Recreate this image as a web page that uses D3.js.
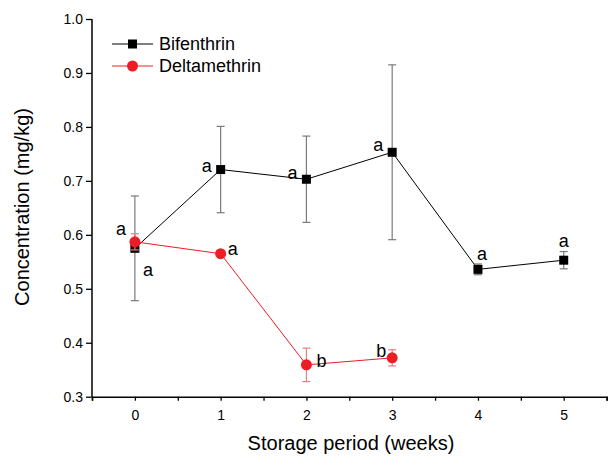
<!DOCTYPE html>
<html>
<head>
<meta charset="utf-8">
<script src="https://cdn.jsdelivr.net/npm/d3@7"></script>
<style>
body { margin: 0; background: #fff; }
text { font-family: Arial, "Liberation Sans", sans-serif; }
</style>
</head>
<body>
<svg width="608" height="457"></svg>
<script>
// data
var weeks = [0, 1, 2, 3, 4, 5];
var bifenthrin = [0.575, 0.721, 0.703, 0.753, 0.536, 0.553];
var bifenthrinErr = [0.097, 0.08, 0.08, 0.162, 0.01, 0.016];
var bifenthrinLetters = ['a', 'a', 'a', 'a', 'a', 'a'];
var deltaWeeks = [0, 1, 2, 3];
var deltamethrin = [0.587, 0.565, 0.359, 0.372];
var deltamethrinErr = [0.015, 0.004, 0.031, 0.015];
var deltamethrinLetters = ['a', 'a', 'b', 'b'];
var yTicks = [0.3, 0.4, 0.5, 0.6, 0.7, 0.8, 0.9, 1.0];

// label offsets (px) relative to each point
var bifLabelOff = [[13, 21], [-14, -4], [-14, -7], [-14, -8], [4, -16], [0, -19]];
var delLabelOff = [[-14, -13], [12, -5], [15, -4], [-11, -7]];

var svg = d3.select('svg');
var x = d3.scaleLinear().domain([-0.5, 5.5]).range([92, 606.6]);
var y = d3.scaleLinear().domain([0.3, 1.0]).range([396.7, 19]);

// axes
var xAxis = d3.axisBottom(x)
    .tickValues(d3.range(-0.5, 5.51, 0.5))
    .tickSize(4)
    .tickFormat(function(d) { return Number.isInteger(d) && d >= 0 ? d : ''; });
var gx = svg.append('g').attr('transform', 'translate(0,' + y(0.3) + ')').call(xAxis);
gx.select('.domain').attr('stroke-width', 1.5);
gx.selectAll('.tick line').attr('stroke-width', 1.3);
gx.selectAll('.tick text').attr('font-size', 14).attr('fill', '#000').attr('dy', '1.2em');

var yAxis = d3.axisLeft(y).tickValues(yTicks).tickSize(6).tickFormat(d3.format('.1f'));
var gy = svg.append('g').attr('transform', 'translate(' + x(-0.5) + ',0)').call(yAxis);
gy.select('.domain').attr('stroke-width', 1.5).attr('d', 'M0,' + y(1.0) + 'V' + y(0.3));
gy.selectAll('.tick line').attr('stroke-width', 1.3);
gy.selectAll('.tick text').attr('font-size', 14).attr('fill', '#000').attr('x', -9);

svg.append('text').attr('x', 351).attr('y', 450).attr('text-anchor', 'middle')
    .attr('font-size', 20).text('Storage period (weeks)');
svg.append('text').attr('transform', 'translate(29,207)rotate(-90)').attr('text-anchor', 'middle')
    .attr('font-size', 20).text('Concentration (mg/kg)');

function drawSeries(xs, ys, errs, letters, offs, lineColor, errColor, marker) {
    var g = svg.append('g');
    var pts = xs.map(function(d, i) { return { x: d, y: ys[i], e: errs[i], l: letters[i], o: offs[i] }; });
    g.append('path').datum(pts)
        .attr('fill', 'none').attr('stroke', lineColor).attr('stroke-width', 1)
        .attr('d', d3.line().x(function(d) { return x(d.x); }).y(function(d) { return y(d.y); }));
    var eb = g.selectAll('g.err').data(pts).enter().append('g')
        .attr('stroke', errColor).attr('stroke-width', 1.2);
    eb.append('line')
        .attr('x1', function(d) { return x(d.x); }).attr('x2', function(d) { return x(d.x); })
        .attr('y1', function(d) { return y(d.y - d.e); }).attr('y2', function(d) { return y(d.y + d.e); });
    [-1, 1].forEach(function(s) {
        eb.append('line')
            .attr('x1', function(d) { return x(d.x) - 4; }).attr('x2', function(d) { return x(d.x) + 4; })
            .attr('y1', function(d) { return y(d.y + s * d.e); }).attr('y2', function(d) { return y(d.y + s * d.e); });
    });
    if (marker === 'square') {
        g.selectAll('rect').data(pts).enter().append('rect')
            .attr('x', function(d) { return x(d.x) - 4.5; }).attr('y', function(d) { return y(d.y) - 4.5; })
            .attr('width', 9).attr('height', 9).attr('fill', '#000');
    } else {
        g.selectAll('circle').data(pts).enter().append('circle')
            .attr('cx', function(d) { return x(d.x); }).attr('cy', function(d) { return y(d.y); })
            .attr('r', 5.5).attr('fill', lineColor);
    }
    g.selectAll('text').data(pts).enter().append('text')
        .attr('x', function(d) { return x(d.x) + d.o[0]; })
        .attr('y', function(d) { return y(d.y) + d.o[1]; })
        .attr('text-anchor', 'middle').attr('dy', '0.35em')
        .attr('font-size', 18).text(function(d) { return d.l; });
}

var red = '#ee1c25';
drawSeries(weeks, bifenthrin, bifenthrinErr, bifenthrinLetters, bifLabelOff, '#000', '#7a7a7a', 'square');
drawSeries(deltaWeeks, deltamethrin, deltamethrinErr, deltamethrinLetters, delLabelOff, red, '#f07a7f', 'circle');

// legend
var legend = [['Bifenthrin', '#000', 'square'], ['Deltamethrin', red, 'circle']];
var lg = svg.selectAll('g.legend').data(legend).enter().append('g')
    .attr('transform', function(d, i) { return 'translate(112,' + (44 + i * 22) + ')'; });
lg.append('line').attr('x1', 0).attr('x2', 41).attr('stroke', function(d) { return d[1]; }).attr('stroke-width', 1);
lg.filter(function(d) { return d[2] === 'square'; }).append('rect')
    .attr('x', 16).attr('y', -4.5).attr('width', 9).attr('height', 9).attr('fill', '#000');
lg.filter(function(d) { return d[2] === 'circle'; }).append('circle')
    .attr('cx', 20.5).attr('r', 5.5).attr('fill', red);
lg.append('text').attr('x', 47).attr('dy', '0.35em').attr('font-size', 18).text(function(d) { return d[0]; });
</script>
</body>
</html>
